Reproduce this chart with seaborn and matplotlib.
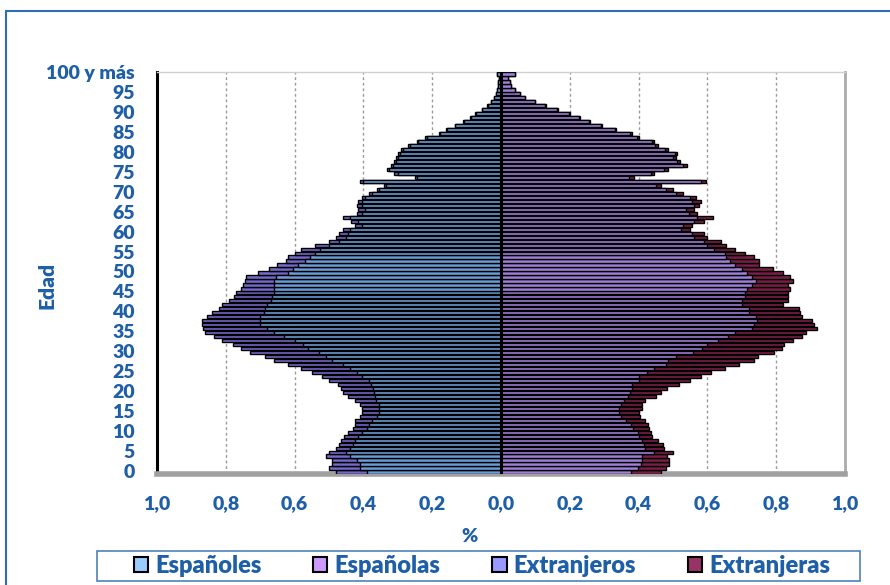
import numpy as np
import matplotlib
matplotlib.use("Agg")
import matplotlib.pyplot as plt
from matplotlib.patches import Patch, Rectangle
from matplotlib.lines import Line2D
from matplotlib.transforms import blended_transform_factory
import seaborn as sns

# DATA (% of total population by single year of age)
ages = list(range(101))
label_ages = list(range(0, 101, 5))
age_labels = [str(a) for a in range(0, 100, 5)] + ["100 y más"]

espanoles = [0.39, 0.41, 0.41, 0.42, 0.44, 0.45, 0.44, 0.43, 0.425, 0.415,
             0.405, 0.39, 0.385, 0.375, 0.36, 0.355, 0.355, 0.356, 0.362, 0.367,
             0.37, 0.372, 0.377, 0.385, 0.405, 0.42, 0.44, 0.46, 0.49, 0.51,
             0.53, 0.56, 0.575, 0.60, 0.63, 0.66, 0.68, 0.70, 0.70, 0.70,
             0.69, 0.685, 0.68, 0.67, 0.665, 0.66, 0.66, 0.66, 0.66, 0.655,
             0.62, 0.605, 0.59, 0.57, 0.555, 0.54, 0.525, 0.50, 0.47, 0.45,
             0.445, 0.44, 0.405, 0.415, 0.44, 0.405, 0.395, 0.405, 0.403, 0.395,
             0.375, 0.355, 0.335, 0.40, 0.245, 0.30, 0.325, 0.315, 0.305, 0.30,
             0.295, 0.285, 0.265, 0.24, 0.215, 0.177, 0.157, 0.133, 0.108, 0.088,
             0.074, 0.054, 0.039, 0.03, 0.02, 0.015, 0.012, 0.01, 0.008, 0.006,
             0.012]
extranjeros = [0.09, 0.09, 0.08, 0.07, 0.07, 0.05, 0.04, 0.04, 0.04, 0.04,
               0.04, 0.04, 0.04, 0.05, 0.05, 0.05, 0.05, 0.054, 0.063, 0.078,
               0.09, 0.093, 0.098, 0.115, 0.115, 0.13, 0.14, 0.16, 0.17, 0.175,
               0.20, 0.195, 0.205, 0.21, 0.205, 0.20, 0.185, 0.17, 0.17, 0.155,
               0.15, 0.135, 0.13, 0.12, 0.11, 0.11, 0.095, 0.09, 0.085, 0.085,
               0.085, 0.07, 0.06, 0.055, 0.065, 0.06, 0.055, 0.04, 0.03, 0.03,
               0.025, 0.02, 0.02, 0.02, 0.02, 0.015, 0.02, 0.015, 0.012, 0.01,
               0.01, 0.005, 0.005, 0.01, 0.005, 0.01, 0.005, 0.005, 0.005, 0.005,
               0.005, 0.005, 0.005, 0.005, 0.005, 0.003, 0.003, 0.002, 0.002, 0.002,
               0.001, 0.001, 0.001, 0.0, 0.0, 0.0, 0.0, 0.0, 0.0, 0.0,
               0.0]
espanolas = [0.377, 0.397, 0.407, 0.41, 0.41, 0.445, 0.42, 0.416, 0.41, 0.40,
             0.397, 0.385, 0.378, 0.363, 0.35, 0.344, 0.344, 0.35, 0.358, 0.368,
             0.375, 0.38, 0.38, 0.40, 0.40, 0.425, 0.445, 0.48, 0.485, 0.51,
             0.557, 0.585, 0.60, 0.63, 0.66, 0.68, 0.73, 0.735, 0.745, 0.74,
             0.72, 0.72, 0.70, 0.70, 0.71, 0.71, 0.715, 0.73, 0.74, 0.73,
             0.715, 0.70, 0.68, 0.665, 0.655, 0.65, 0.62, 0.60, 0.59, 0.56,
             0.556, 0.523, 0.528, 0.56, 0.57, 0.547, 0.537, 0.56, 0.556, 0.55,
             0.51, 0.48, 0.45, 0.58, 0.373, 0.435, 0.475, 0.53, 0.512, 0.50,
             0.505, 0.478, 0.448, 0.44, 0.395, 0.375, 0.331, 0.292, 0.257, 0.228,
             0.198, 0.164, 0.129, 0.099, 0.07, 0.055, 0.04, 0.03, 0.025, 0.02,
             0.04]
extranjeras = [0.088, 0.083, 0.082, 0.079, 0.074, 0.055, 0.055, 0.054, 0.045, 0.04,
               0.039, 0.045, 0.048, 0.057, 0.055, 0.056, 0.066, 0.06, 0.062, 0.082,
               0.09, 0.104, 0.138, 0.15, 0.18, 0.185, 0.205, 0.212, 0.25, 0.236,
               0.237, 0.233, 0.223, 0.22, 0.216, 0.206, 0.19, 0.175, 0.16, 0.136,
               0.15, 0.146, 0.12, 0.133, 0.125, 0.125, 0.125, 0.105, 0.11, 0.11,
               0.105, 0.09, 0.07, 0.085, 0.08, 0.06, 0.06, 0.055, 0.05, 0.04,
               0.034, 0.027, 0.028, 0.03, 0.045, 0.024, 0.023, 0.016, 0.024, 0.016,
               0.02, 0.02, 0.015, 0.015, 0.014, 0.01, 0.01, 0.01, 0.008, 0.008,
               0.008, 0.007, 0.007, 0.005, 0.005, 0.005, 0.004, 0.003, 0.003, 0.002,
               0.002, 0.001, 0.001, 0.001, 0.0, 0.0, 0.0, 0.0, 0.0, 0.0,
               0.0]

series_names = ["Españoles", "Españolas", "Extranjeros", "Extranjeras"]
colors = {"Españoles": "#6a9dd6", "Españolas": "#a07fd6",
          "Extranjeros": "#7468c8", "Extranjeras": "#7a2048"}
legend_colors = {"Españoles": "#99ccff", "Españolas": "#cc99ff",
                 "Extranjeros": "#9999ff", "Extranjeras": "#993366"}
blue = "#1f5fa8"
weight = "heavy"

sns.set_style("white")
plt.rcParams["font.family"] = ["Lato", "DejaVu Sans"]
plt.rcParams["font.weight"] = weight

fig = plt.figure(figsize=(8.9, 5.85), dpi=100)
ax = fig.add_axes([157 / 890, 1 - 474 / 585, (845 - 157) / 890, (474 - 72) / 585])

men_total = -(np.array(espanoles) + np.array(extranjeros))
women_total = np.array(espanolas) + np.array(extranjeras)

bar_kw = dict(orient="h", native_scale=True, width=0.8, edgecolor="black",
              linewidth=1.0, saturation=1, ax=ax, zorder=3)
sns.barplot(x=men_total, y=ages, color=colors["Extranjeros"], **bar_kw)
sns.barplot(x=-np.array(espanoles), y=ages, color=colors["Españoles"], **bar_kw)
sns.barplot(x=women_total, y=ages, color=colors["Extranjeras"], **bar_kw)
sns.barplot(x=espanolas, y=ages, color=colors["Españolas"], **bar_kw)

ax.axvline(0, color="black", lw=2.2, zorder=4)
for g in [-0.8, -0.6, -0.4, -0.2, 0.2, 0.4, 0.6, 0.8]:
    ax.axvline(g, color="#9a9a9a", lw=1, ls=(0, (2, 2)), zorder=1)

ax.set_xlim(-1, 1)
ax.set_ylim(-0.5, 100.5)
xt = [-1, -0.8, -0.6, -0.4, -0.2, 0, 0.2, 0.4, 0.6, 0.8, 1]
ax.set_xticks(xt)
ax.set_xticklabels([f"{abs(v):.1f}".replace(".", ",") for v in xt])
ax.set_yticks(ages)
ax.set_yticklabels([])
ax.set_xlabel("")
ax.set_ylabel("")

ax.tick_params(axis="x", direction="out", length=6, width=1, color="black",
               pad=9, labelsize=14, labelcolor=blue)
ax.tick_params(axis="y", direction="in", length=3, width=0.6, color="#666666")
for lab in ax.get_xticklabels():
    lab.set_fontweight(weight)

# age labels, right-aligned left of the axis
ytrans = blended_transform_factory(ax.transAxes, ax.transData)
for a, lab in zip(label_ages, age_labels):
    ax.text(-0.032, a, lab, transform=ytrans, ha="right", va="center",
            fontsize=14, fontweight=weight, color=blue, clip_on=False)

ax.spines["left"].set_color("black")
ax.spines["left"].set_linewidth(2.2)
ax.spines["bottom"].set_color("#a0a0a0")
ax.spines["bottom"].set_linewidth(4)
ax.spines["right"].set_color("#aaaaaa")
ax.spines["right"].set_linewidth(2)
ax.spines["right"].set_linestyle((0, (2, 1)))
ax.spines["top"].set_color("#d0d0d0")
ax.spines["top"].set_linewidth(1)

fig.text(470 / 890, 1 - 537 / 585, "%", color=blue, fontsize=14, fontweight=weight,
         ha="center", va="center")
fig.text(47 / 890, 1 - 285 / 585, "Edad", color=blue, fontsize=15, fontweight=weight,
         ha="center", va="center", rotation=90)

# outer chart border (Excel chart area)
fig.add_artist(Line2D([6 / 890, 6 / 890], [0, 1 - 11 / 585], color="#2f6db5", lw=1.5))
fig.add_artist(Line2D([6 / 890, 1], [1 - 11 / 585, 1 - 11 / 585], color="#2f6db5", lw=1.5))

# legend box
fig.add_artist(Rectangle((97 / 890, 1 - 581 / 585), (860 - 97) / 890, 30 / 585,
                         transform=fig.transFigure, fill=False,
                         edgecolor="#4f81bd", lw=1.2))
handles = [Patch(facecolor=legend_colors[n], edgecolor="black", linewidth=1.5) for n in series_names]
leg = fig.legend(handles, series_names, loc="center", ncol=4,
                 bbox_to_anchor=(482 / 890, 1 - 566 / 585),
                 frameon=False, fontsize=17, handlelength=0.6,
                 handleheight=0.6, handletextpad=0.3, columnspacing=2.2,
                 borderpad=0, borderaxespad=0)
for t in leg.get_texts():
    t.set_color(blue)
    t.set_fontweight(weight)

fig.savefig("out.png", dpi=100)
